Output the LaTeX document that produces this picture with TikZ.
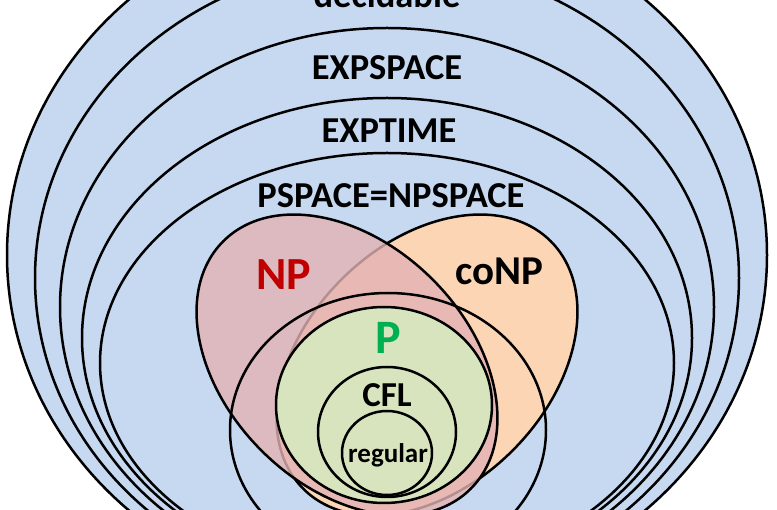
\documentclass[tikz,border=0pt]{standalone}
\usepackage{fontspec}
\setmainfont{Carlito}
\definecolor{cblue}{HTML}{C6D9F1}
\definecolor{cpeach}{HTML}{FCD5B5}
\definecolor{cpink}{HTML}{E3B3B4}
\definecolor{cgreen}{HTML}{D7E4BD}
\definecolor{cred}{HTML}{C00000}
\definecolor{cgreentext}{HTML}{00B050}
\begin{document}
\begin{tikzpicture}[x=1pt,y=-1pt,line width=2.5pt,
  blueset/.style={draw=black,fill=cblue},
  lbl/.style={font=\bfseries\fontsize{36.5}{40}\selectfont,inner sep=0pt,anchor=base}]
\useasboundingbox (0,0) rectangle (777,510);
\fill[white] (0,0) rectangle (777,510);
\clip (0,0) rectangle (777,510);
% nested blue classes
\draw[blueset] (387,255) ellipse [x radius=380pt,y radius=348pt];
\draw[blueset] (387,278) ellipse [x radius=352pt,y radius=317pt];
\draw[blueset] (387,307) ellipse [x radius=327pt,y radius=279pt];
\draw[blueset] (387,338) ellipse [x radius=305pt,y radius=240pt];
\draw[blueset] (387,363) ellipse [x radius=287pt,y radius=210pt];
% coNP and NP
\draw[fill=cpeach,rotate around={45:(427,365)}] (427,365) ellipse [x radius=175pt,y radius=121pt];
\draw[fill=cpink,fill opacity=0.8,rotate around={-45:(347,365)}] (347,365) ellipse [x radius=175pt,y radius=121pt];
% unlabeled outline
\draw (388,430) ellipse [x radius=158pt,y radius=137pt];
% P, CFL, regular
\draw[fill=cgreen] (384,405) ellipse [x radius=108pt,y radius=98pt];
\draw[fill=cgreen] (387,432) ellipse [x radius=69pt,y radius=65pt];
\draw[fill=cgreen] (387,453) ellipse [x radius=45pt,y radius=42pt];
% labels
\node[lbl] (decidable) at (387,8) {decidable};
\node[lbl] (expspace) at (387,80) {EXPSPACE};
\node[lbl] (exptime) at (389,143) {EXPTIME};
\node[lbl] (pspace) at (391,208) {PSPACE=NPSPACE};
\node[lbl,font=\bfseries\fontsize{46}{50}\selectfont,text=cred] (np) at (284,290) {NP};
\node[lbl,font=\bfseries\fontsize{41}{44}\selectfont] (conp) at (499,285) {coNP};
\node[lbl,font=\bfseries\fontsize{48}{52}\selectfont,text=cgreentext] (p) at (388,354) {P};
\node[lbl,font=\bfseries\fontsize{35}{38}\selectfont] (cfl) at (387,407) {CFL};
\node[lbl,font=\bfseries\fontsize{27}{30}\selectfont] (regular) at (388,463) {regular};
\end{tikzpicture}
\end{document}
